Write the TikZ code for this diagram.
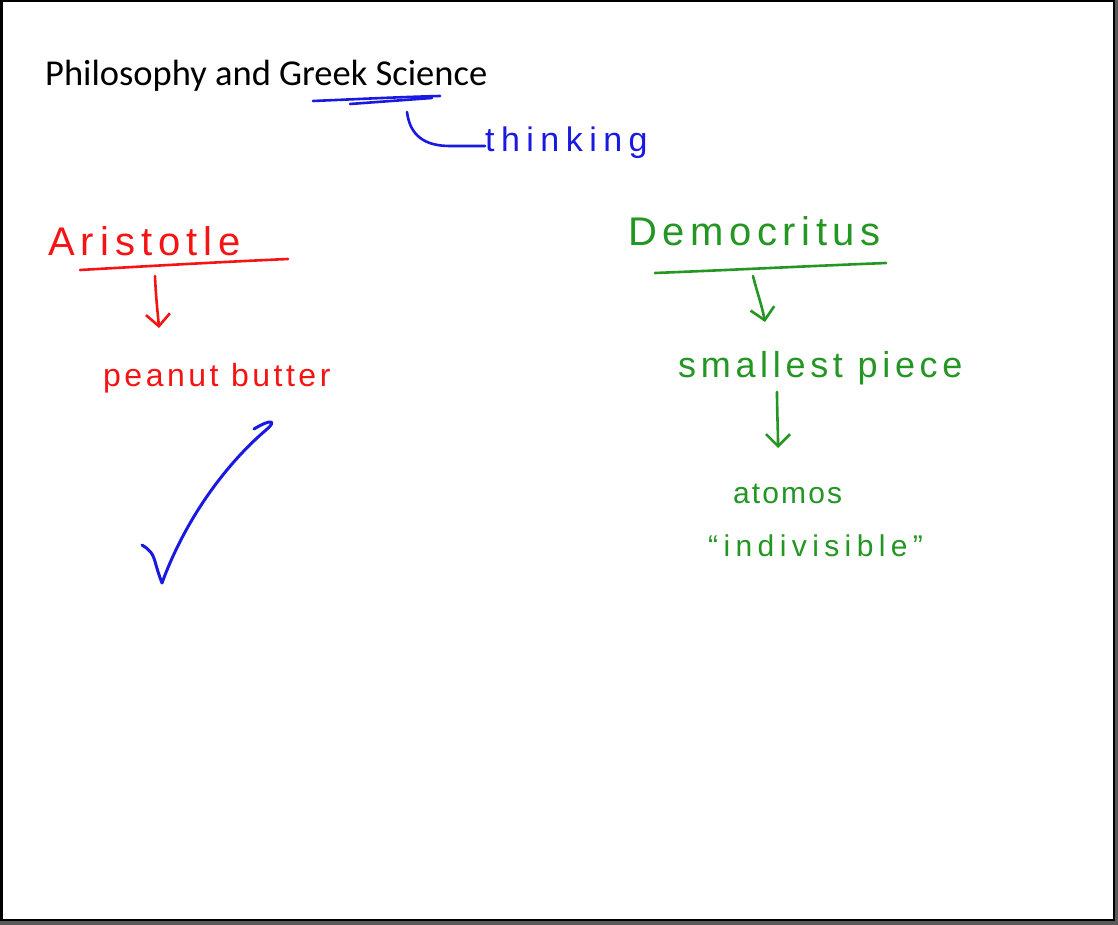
\documentclass[tikz,border=0pt]{standalone}
\usepackage{fontspec}
\setmainfont{Carlito}
\newfontfamily\hand{Liberation Sans}
\usetikzlibrary{arrows.meta}
\definecolor{penblue}{RGB}{25,25,225}
\definecolor{penred}{RGB}{245,20,20}
\definecolor{pengreen}{RGB}{35,150,35}
\tikzset{
  stroke/.style={line width=2.6pt, line cap=round, line join=round},
  hw/.style={anchor=base west, inner sep=0pt},
  arr/.style={stroke, -{Straight Barb[length=12pt,width=24pt]}}
}
\newcommand{\hw}[2]{\hand\fontsize{#1}{#1}\selectfont\addfontfeature{LetterSpace=#2}}
\begin{document}
\begin{tikzpicture}[x=1pt,y=-1pt]
\useasboundingbox (0,0) rectangle (1118,925);
\fill[white] (0,0) rectangle (1118,925);
\fill[black!65] (1113,0) rectangle (1118,925);
\fill[black!65] (0,919) rectangle (1118,925);
\draw[line width=2.5pt] (1.25,1.25) rectangle (1114,920);

% title
\node[hw, font=\fontsize{36.5}{40}\selectfont] (title) at (45,86) {Philosophy and Greek Science};
\coordinate (ulA) at (313,101);
\coordinate (ulB) at (440,96);
\draw[stroke, penblue] (ulA) .. controls (360,99) and (400,97) .. (ulB);
\draw[stroke, penblue] (350,104) -- (432,98);
\node[hw, text=penblue, font=\hw{34}{19}] (thinking) at (485,152) {thinking};
\coordinate (cv) at (407,112);
\draw[stroke, penblue] (cv) .. controls (410,136) and (425,146) .. (450,146) -- (thinking.west |- 0,146);

% Aristotle
\node[hw, text=penred, font=\hw{40}{15}] (aristotle) at (48,255) {Aristotle};
\coordinate (redL) at (80,270);
\coordinate (redR) at (288,259);
\draw[stroke, penred] (redL) .. controls (150,266) and (220,262) .. (redR);
\coordinate (redA) at (155,276);
\node[hw, text=penred, font=\hw{32}{11}] (peanut) at (103,386) {peanut butter};
\draw[arr, penred] (redA) .. controls (156,300) and (158,315) .. (159,328);

% check mark
\draw[line width=3pt, line cap=round, line join=round, penblue]
  (142,545) .. controls (150,550) and (153,553) .. (156,565)
  .. controls (158,572) and (160,578) .. (162,583)
  .. controls (185,520) and (225,465) .. (266,430)
  .. controls (277,421) and (272,418) .. (254,429);

% Democritus
\node[hw, text=pengreen, font=\hw{40}{14}] (democritus) at (628,246) {Democritus};
\coordinate (grL) at (655,273);
\coordinate (grR) at (886,263);
\draw[stroke, pengreen] (grL) .. controls (730,270) and (810,266) .. (grR);
\coordinate (grA) at (753,276);
\node[hw, text=pengreen, font=\hw{36}{13}] (smallest) at (678,377) {smallest piece};
\draw[arr, pengreen] (grA) .. controls (757,292) and (762,306) .. (765,322);
\coordinate (grB) at (777,392);
\node[hw, text=pengreen, font=\hw{30}{7}] (atomos) at (733,503) {atomos};
\draw[arr, pengreen] (grB) .. controls (777,410) and (778,430) .. (778,448);
\node[hw, text=pengreen, font=\hw{30}{18}] (indiv) at (708,556) {“indivisible”};
\end{tikzpicture}
\end{document}
